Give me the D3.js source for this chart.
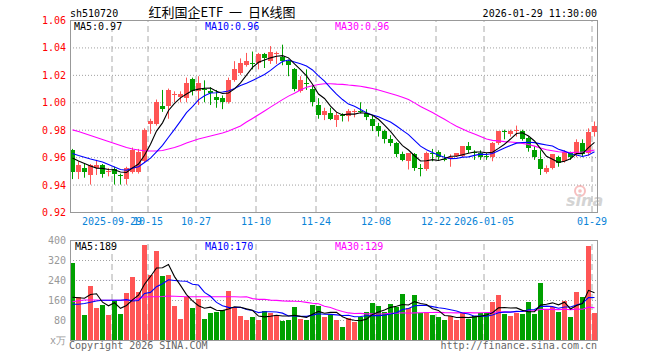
<!DOCTYPE html>
<html>
<head>
<meta charset="utf-8">
<script src="https://cdn.jsdelivr.net/npm/d3@7"></script>
<style>
  body { margin: 0; background: #fff; }
  svg text { font-family: "DejaVu Sans Mono", monospace; font-size: 10px; }
</style>
</head>
<body>
<script>
// trading days shown on the chart
var dates = [
  '2025-09-18','2025-09-19','2025-09-22','2025-09-23','2025-09-24','2025-09-25','2025-09-26','2025-09-29','2025-09-30',
  '2025-10-09','2025-10-10','2025-10-13','2025-10-14','2025-10-15','2025-10-16','2025-10-17','2025-10-20','2025-10-21',
  '2025-10-22','2025-10-23','2025-10-24','2025-10-27','2025-10-28','2025-10-29','2025-10-30','2025-10-31',
  '2025-11-03','2025-11-04','2025-11-05','2025-11-06','2025-11-07','2025-11-10','2025-11-11','2025-11-12','2025-11-13',
  '2025-11-14','2025-11-17','2025-11-18','2025-11-19','2025-11-20','2025-11-21','2025-11-24','2025-11-25','2025-11-26',
  '2025-11-27','2025-11-28',
  '2025-12-01','2025-12-02','2025-12-03','2025-12-04','2025-12-05','2025-12-08','2025-12-09','2025-12-10','2025-12-11',
  '2025-12-12','2025-12-15','2025-12-16','2025-12-17','2025-12-18','2025-12-19','2025-12-22','2025-12-23','2025-12-24',
  '2025-12-25','2025-12-26','2025-12-29','2025-12-30','2025-12-31',
  '2026-01-05','2026-01-06','2026-01-07','2026-01-08','2026-01-09','2026-01-12','2026-01-13','2026-01-14','2026-01-15',
  '2026-01-16','2026-01-19','2026-01-20','2026-01-21','2026-01-22','2026-01-23','2026-01-26','2026-01-27','2026-01-28',
  '2026-01-29'
];

var open = [
  .965,.949,.952,.947,.952,.954,.949,.951,.947,.944,
  .949,.949,.957,.984,.984,.997,.997,1.006,1.004,1.003,
  1.017,1.008,1.010,1.008,1.004,1.003,1.000,1.016,1.021,1.027,
  1.029,1.029,1.035,1.030,1.035,1.033,1.030,1.024,1.008,1.014,
  1.010,.998,.991,.992,.987,.991,.990,.993,.994,.992,
  .988,.983,.979,.973,.970,.962,.957,.962,.952,.951,
  .963,.964,.959,.959,.961,.961,.968,.964,.963,.961,
  .960,.970,.979,.977,.980,.979,.974,.965,.959,.949,
  .952,.960,.957,.963,.962,.970,.963,.978
];
var high = [
  .966,.957,.955,.955,.958,.955,.952,.953,.948,.953,
  .967,.966,.981,.988,1.002,1.009,1.010,1.008,1.008,1.018,
  1.018,1.019,1.016,1.011,1.009,1.005,1.018,1.030,1.032,1.036,
  1.037,1.036,1.036,1.041,1.037,1.042,1.031,1.025,1.019,1.024,
  1.012,1.003,.996,.996,.993,.992,.995,.995,1.000,.995,
  .990,.985,.980,.976,.971,.964,.963,.963,.955,.964,
  .966,.965,.962,.962,.963,.968,.971,.965,.965,.963,
  .971,.979,.980,.980,.983,.980,.975,.968,.965,.954,
  .962,.961,.965,.964,.973,.973,.981,.986
];
var low = [
  .944,.944,.945,.940,.947,.945,.946,.940,.940,.940,
  .948,.948,.956,.977,.983,.993,.988,1.000,1.000,1.000,
  1.005,.998,1.000,.998,.996,.995,.999,1.015,1.020,1.026,
  1.024,1.024,1.025,1.028,1.028,1.027,1.019,1.008,1.007,1.009,
  .997,.988,.987,.987,.982,.986,.986,.989,.992,.987,
  .979,.975,.970,.968,.960,.957,.951,.950,.946,.950,
  .957,.958,.957,.953,.960,.960,.963,.958,.958,.958,
  .957,.969,.973,.975,.975,.972,.964,.958,.947,.948,
  .951,.953,.956,.958,.960,.960,.961,.975
];
var close = [
  .949,.954,.949,.954,.954,.948,.950,.948,.946,.952,
  .965,.964,.980,.986,1.000,.995,1.009,1.006,1.006,1.014,
  1.008,1.014,1.009,1.007,1.002,1.000,1.016,1.024,1.029,1.030,
  1.028,1.035,1.032,1.037,1.036,1.030,1.027,1.010,1.016,1.013,
  1.000,.991,.994,.988,.991,.990,.994,.994,.993,.989,
  .983,.979,.973,.970,.962,.958,.963,.952,.951,.963,
  .962,.960,.958,.960,.963,.968,.965,.963,.960,.960,
  .970,.979,.978,.979,.980,.973,.967,.960,.951,.952,
  .962,.956,.964,.960,.971,.962,.978,.983
];
// volume, in 10k
var volume = [
  309,171,100,216,129,140,100,160,104,187,
  251,193,380,260,356,256,260,136,84,173,
  129,164,84,107,112,120,196,131,96,80,
  91,80,116,107,100,77,80,131,84,80,
  140,137,93,102,80,53,87,72,93,112,
  148,136,113,144,133,184,127,180,107,111,
  100,93,80,96,80,107,84,96,107,107,
  153,180,104,96,109,104,153,104,228,125,
  133,113,157,93,193,173,377,110
];

// moving average values before enough days are on screen
var ma5Head = [.9594,.9572,.9554,.9535];
var ma10Head = [.9627,.9612,.9599,.9586,.9576,.9565,.9546,.9528,.9510];
var ma30Head = [.9799,.9787,.9772,.9758,.9743,.9729,.9714,.9700,.9685,.9670,
  .9659,.9652,.9647,.9645,.9645,.9648,.9659,.9670,.9685,.9703,
  .9718,.9732,.9743,.9754,.9765,.9776,.9791,.9809,.9827];
var volMa5Head = [171,169,167,182];
var volMa10Head = [143,143,146,151,156,159,159,159,159];
var volMa30Head = [153,157,160,160,160,159,159,159,159,159,
  160,165,172,173,173,174,176,175,174,173,
  173,173,173,173,173,173,173,173,172];

var priceTicks = [1.06,1.04,1.02,1.00,0.98,0.96,0.94,0.92];
var volTicks = [400,320,240,160,80,0];
var tickDates = ['2025-09-29','2025-10-15','2025-10-27','2025-11-10','2025-11-24','2025-12-08','2025-12-22','2026-01-05','2026-01-29'];
var tickLabels = ['2025-09-29','10-15','10-27','11-10','11-24','12-08','12-22','2026-01-05','01-29'];

var red = '#ff5555';
var green = '#00a000';

function movingAvg(arr, n, head) {
  return arr.map(function (v, i) {
    if (i < n - 1) return head[i];
    return d3.mean(arr.slice(i - n + 1, i + 1));
  });
}

// legend values are cut, not rounded
function cut(v, digits) {
  var k = Math.pow(10, digits);
  return (Math.floor(v * k + 1e-9) / k).toFixed(digits);
}

var ma5 = movingAvg(close, 5, ma5Head);
var ma10 = movingAvg(close, 10, ma10Head);
var ma30 = movingAvg(close, 30, ma30Head);
var vma5 = movingAvg(volume, 5, volMa5Head);
var vma10 = movingAvg(volume, 10, volMa10Head);
var vma30 = movingAvg(volume, 30, volMa30Head);

var candles = dates.map(function (d, i) {
  return { date: d, o: open[i], h: high[i], l: low[i], c: close[i], v: volume[i] };
});

var svg = d3.select('body').append('svg').attr('width', 660).attr('height', 360);

var left = 70;
var right = 597;
var plotW = right - left;

var xScale = d3.scaleBand()
  .domain(dates)
  .range([left, left + 6 * (dates.length - 1 / 6)])
  .paddingInner(1 / 6)
  .paddingOuter(0);
var yScale = d3.scaleLinear().domain([0.92, 1.06]).range([212, 20]);
var vScale = d3.scaleLinear().domain([0, 400]).range([340, 240]);

function styleAxis(g) {
  g.attr('font-family', '"DejaVu Sans Mono", monospace').attr('font-size', 10);
  g.select('.domain').remove();
}

// header texts
svg.append('text').attr('x', 70).attr('y', 16.5).attr('fill', '#000').text('sh510720');
svg.append('text')
  .attr('x', 222).attr('y', 17).attr('text-anchor', 'middle')
  .style('font-family', '"Noto Sans CJK SC", sans-serif').style('font-size', '13px')
  .style('word-spacing', '3px')
  .attr('fill', '#000')
  .text('红利国企ETF 一 日K线图');
svg.append('text').attr('x', 597).attr('y', 16.5).attr('text-anchor', 'end').attr('fill', '#000')
  .text('2026-01-29 11:30:00');

// horizontal grid + price labels
svg.append('g')
  .attr('transform', 'translate(' + left + ',0)')
  .call(d3.axisLeft(yScale).tickValues(priceTicks).tickSize(-plotW).tickPadding(4).tickFormat(d3.format('.2f')))
  .call(styleAxis)
  .call(function (g) {
    g.selectAll('line').attr('stroke', '#a0a0a0').attr('stroke-dasharray', '1,2');
    g.selectAll('text').attr('fill', '#f00').attr('dy', '0.35em');
  });

// vertical grid + date labels
svg.append('g')
  .attr('transform', 'translate(-2.5,212)')
  .call(d3.axisBottom(xScale).tickValues(tickDates).tickSize(-192).tickPadding(6)
    .tickFormat(function (d, i) { return tickLabels[i]; }))
  .call(styleAxis)
  .call(function (g) {
    g.selectAll('line').attr('stroke', '#aaa').attr('stroke-dasharray', '6,4');
    g.selectAll('text').attr('fill', '#0a84d8');
  });

// volume grid
svg.append('g')
  .attr('transform', 'translate(' + left + ',0)')
  .call(d3.axisLeft(vScale).tickValues(volTicks).tickSize(-plotW).tickPadding(4)
    .tickFormat(function (d) { return d === 0 ? 'x万' : d; }))
  .call(styleAxis)
  .call(function (g) {
    g.selectAll('line').attr('stroke', '#a0a0a0').attr('stroke-dasharray', '1,2');
    g.selectAll('text').attr('fill', '#999').attr('dy', '0.35em');
  });

svg.append('g')
  .attr('transform', 'translate(-2.5,340)')
  .call(d3.axisBottom(xScale).tickValues(tickDates).tickSize(-100).tickFormat(''))
  .call(styleAxis)
  .call(function (g) {
    g.selectAll('line').attr('stroke', '#aaa').attr('stroke-dasharray', '6,4');
  });

// sina watermark
var logo = svg.append('g').attr('opacity', 0.5);
logo.append('circle').attr('cx', 580).attr('cy', 191).attr('r', 5).attr('fill', 'none').attr('stroke', '#f08080').attr('stroke-width', 2);
logo.append('circle').attr('cx', 580).attr('cy', 191).attr('r', 1.8).attr('fill', '#f08080');
logo.append('text').attr('x', 566).attr('y', 206)
  .style('font-family', '"DejaVu Sans", sans-serif').style('font-size', '16px')
  .style('font-style', 'italic').style('font-weight', 'bold').attr('fill', '#aaa').text('sina');

// candles
var candleG = svg.append('g');
candleG.selectAll('line')
  .data(candles)
  .enter()
  .append('line')
  .attr('x1', function (d) { return xScale(d.date) + 2.5; })
  .attr('x2', function (d) { return xScale(d.date) + 2.5; })
  .attr('y1', function (d) { return yScale(d.h); })
  .attr('y2', function (d) { return yScale(d.l); })
  .attr('stroke', function (d) { return d.c >= d.o ? red : green; })
  .attr('stroke-width', 1);

candleG.selectAll('rect')
  .data(candles)
  .enter()
  .append('rect')
  .attr('x', function (d) { return xScale(d.date); })
  .attr('width', xScale.bandwidth())
  .attr('y', function (d) { return Math.round(yScale(Math.max(d.o, d.c))); })
  .attr('height', function (d) {
    return Math.max(1, Math.round(yScale(Math.min(d.o, d.c))) - Math.round(yScale(Math.max(d.o, d.c))));
  })
  .attr('fill', function (d) { return d.c >= d.o ? red : green; });

// moving average lines
function drawLine(values, scale, color) {
  svg.append('path')
    .datum(values)
    .attr('fill', 'none')
    .attr('stroke', color)
    .attr('stroke-width', 1.1)
    .attr('d', d3.line()
      .x(function (d, i) { return xScale(dates[i]) + 2.5; })
      .y(function (d) { return scale(d); }));
}
drawLine(ma30, yScale, '#ff00ff');
drawLine(ma10, yScale, '#0000ff');
drawLine(ma5, yScale, '#000');

// volume bars
svg.append('g')
  .selectAll('rect')
  .data(candles)
  .enter()
  .append('rect')
  .attr('x', function (d) { return xScale(d.date); })
  .attr('width', xScale.bandwidth())
  .attr('y', function (d) { return Math.round(vScale(d.v)); })
  .attr('height', function (d) { return 341 - Math.round(vScale(d.v)); })
  .attr('fill', function (d) { return d.c >= d.o ? red : green; });

drawLine(vma30, vScale, '#ff00ff');
drawLine(vma10, vScale, '#0000ff');
drawLine(vma5, vScale, '#000');

// panel borders
svg.append('rect').attr('x', 70.5).attr('y', 20.5).attr('width', plotW).attr('height', 192)
  .attr('fill', 'none').attr('stroke', '#999');
svg.append('rect').attr('x', 70.5).attr('y', 240.5).attr('width', plotW).attr('height', 100)
  .attr('fill', 'none').attr('stroke', '#999');

// legends
var last = dates.length - 1;
svg.append('text').attr('x', 74).attr('y', 29.5).attr('fill', '#000').text('MA5:' + cut(ma5[last], 2));
svg.append('text').attr('x', 205).attr('y', 29.5).attr('fill', '#0000ff').text('MA10:' + cut(ma10[last], 2));
svg.append('text').attr('x', 335).attr('y', 29.5).attr('fill', '#ff00ff').text('MA30:' + cut(ma30[last], 2));

svg.append('text').attr('x', 75).attr('y', 249.5).attr('fill', '#000').text('MA5:' + cut(vma5[last], 0));
svg.append('text').attr('x', 205).attr('y', 249.5).attr('fill', '#0000ff').text('MA10:' + cut(vma10[last], 0));
svg.append('text').attr('x', 335).attr('y', 249.5).attr('fill', '#ff00ff').text('MA30:' + cut(vma30[last], 0));

// footer
svg.append('text').attr('x', 69).attr('y', 349).attr('fill', '#666').text('Copyright 2026 SINA.COM');
svg.append('text').attr('x', 597).attr('y', 349).attr('text-anchor', 'end').attr('fill', '#666')
  .text('http://finance.sina.com.cn');
</script>
</body>
</html>
